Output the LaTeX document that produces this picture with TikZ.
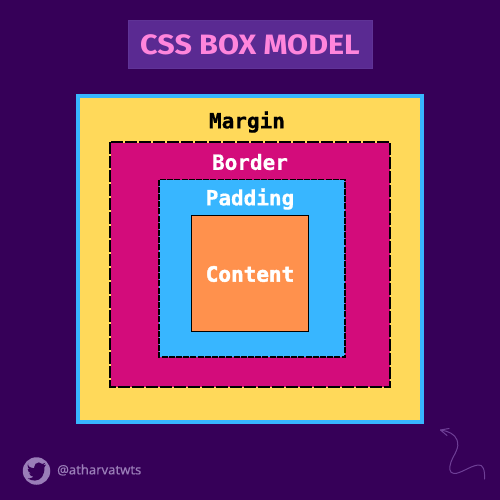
\documentclass[tikz,border=0pt]{standalone}
\usepackage{fontspec}
\setmainfont{Noto Sans}
\newfontfamily\titlefont{Fira Sans}
\newfontfamily\handlefont[FakeBold=0.3]{Noto Sans}
\newfontfamily\labelfont[FakeBold=0.6]{DejaVu Sans Mono Bold}
\newfontfamily\heavyfont[FakeBold=2.2]{DejaVu Sans Mono Bold}
\usetikzlibrary{arrows.meta}
\definecolor{bgc}{HTML}{360058}
\definecolor{yel}{HTML}{FFD95A}
\definecolor{pnk}{HTML}{D30C7B}
\definecolor{blu}{HTML}{38B6FF}
\definecolor{org}{HTML}{FF914D}
\definecolor{titlebg}{HTML}{5A2A92}
\definecolor{titleedge}{HTML}{5F3396}
\definecolor{titlefg}{HTML}{FF85DC}
\definecolor{faint}{HTML}{9A7DB8}
\definecolor{squig}{HTML}{6E3F96}
\tikzset{
  boxlabel/.style={font=\labelfont\fontsize{21}{21}\selectfont, text=white, inner sep=0pt, anchor=center},
}
\begin{document}
\begin{tikzpicture}[x=1pt,y=-1pt]
\useasboundingbox (0,0) rectangle (500,500);
\fill[bgc] (0,0) rectangle (500,500);
% title
\node[draw=titleedge, line width=1pt, fill=titlebg, minimum width=244pt, minimum height=48pt, inner sep=0pt] (titlebox) at (250,44.5) {};
\node[font=\titlefont\bfseries\fontsize{28}{28}\selectfont, text=titlefg, inner sep=0pt, transform shape, xscale=1.09] (titletext) at (250,45) {CSS BOX MODEL};
% margin
\node[draw=blu, line width=4pt, fill=yel, minimum width=344pt, minimum height=326pt, inner sep=0pt] (margin) at (250,259) {};
% border
\node[fill=pnk, minimum width=279pt, minimum height=244pt, inner sep=0pt] (border) at (250,265) {};
\draw[black, line width=2.5pt, dash pattern=on 12pt off 2pt] (110.2,142.2) rectangle (389.8,386.8);
% padding
\node[fill=blu, minimum width=186pt, minimum height=177pt, inner sep=0pt] (padding) at (252,268) {};
\draw[black, line width=1.3pt, dash pattern=on 6pt off 1.2pt] (159,179.5) rectangle (345,357);
% content
\node[draw=black, line width=1pt, fill=org, minimum width=117pt, minimum height=116.5pt, inner sep=0pt] (content) at (250,273.5) {};
% labels
\node[boxlabel, text=black] (lm) at (247,122) {Margin};
\node[boxlabel] (lb) at (250,162) {Border};
\node[boxlabel] (lp) at (250,199) {Padding};
\node[boxlabel, font=\heavyfont\fontsize{21}{21}\selectfont] (lc) at (250,274) {Content};
% twitter badge
\node[circle, fill=faint, minimum size=27.5pt, inner sep=0pt] (badge) at (36.5,471) {};
\fill[bgc] (46,464.6)
  .. controls (45.1,465) and (44.2,465.3) .. (43.2,465.4)
  .. controls (44.2,464.8) and (44.9,463.9) .. (45.3,462.8)
  .. controls (44.4,463.4) and (43.4,463.8) .. (42.3,464)
  .. controls (41.4,463) and (40.2,462.4) .. (38.9,462.4)
  .. controls (36.3,462.4) and (34.2,464.5) .. (34.2,467.1)
  .. controls (34.2,467.5) and (34.2,467.8) .. (34.3,468.2)
  .. controls (30.4,468) and (27,466.1) .. (28.2,463.1)
  .. controls (27.8,463.8) and (27.6,464.6) .. (27.6,465.5)
  .. controls (27.6,467.1) and (28.4,468.6) .. (29.7,469.4)
  .. controls (28.9,469.4) and (28.2,469.2) .. (27.6,468.8)
  .. controls (27.6,471.1) and (29.2,473) .. (31.3,473.4)
  .. controls (30.6,473.6) and (29.9,473.6) .. (29.2,473.5)
  .. controls (29.8,475.3) and (31.5,476.7) .. (33.6,476.7)
  .. controls (31.9,478) and (29.9,478.7) .. (27.8,478.5)
  .. controls (29.9,479.8) and (32.4,480.6) .. (35,480.6)
  .. controls (41,480.6) and (44.7,475) .. (44.5,467)
  .. controls (45.1,466) and (45.6,465.4) .. (46,464.6) -- cycle;
\node[font=\handlefont\fontsize{13}{13}\selectfont, text=faint, inner sep=0pt, anchor=west] (handle) at (57,470) {@atharvatwts};
% squiggle arrow
\coordinate (sqs) at (484.5,479);
\coordinate (sqe) at (440.5,430);
\draw[squig, line width=1pt, line cap=round, line join=round] (sqs)
  .. controls (485,470) and (483,464) .. (478,465)
  .. controls (470,466) and (460,474) .. (454,473.5)
  .. controls (449,473) and (449,468) .. (451,462)
  .. controls (454,454) and (460,448) .. (457,440)
  .. controls (455,434) and (448,431) .. (sqe);
\draw[squig, line width=1pt, line cap=round, line join=round] (449,428.5) -- (sqe) -- (447,435.5);
\end{tikzpicture}
\end{document}
